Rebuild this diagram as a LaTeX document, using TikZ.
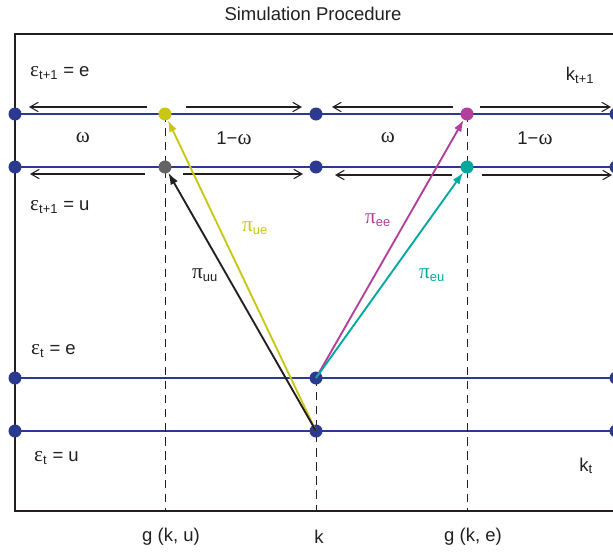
\documentclass[tikz,border=0pt]{standalone}
\usepackage{fontspec}
\setmainfont{Liberation Sans}
\newfontfamily\grk{Liberation Serif}[Scale=1.15]
\usetikzlibrary{arrows.meta, positioning, backgrounds}
\definecolor{NV}{RGB}{43,57,144}
\definecolor{YL}{RGB}{200,200,20}
\definecolor{MG}{RGB}{176,64,156}
\definecolor{TL}{RGB}{0,168,157}
\definecolor{GY}{RGB}{100,100,100}
\definecolor{DG}{RGB}{35,31,32}
\newcommand{\eps}{{\grk ε}}
\newcommand{\sbs}[1]{\textsubscript{#1}}

\begin{document}
\begin{tikzpicture}[x=0.03cm, y=-0.03cm,
  dot/.style={circle, fill=#1, minimum size=0.39cm, inner sep=0},
  lvl/.style={draw=NV, line width=2.3pt},
  guide/.style={draw=DG, line width=0.8pt, dash pattern=on 7pt off 5pt},
  harr/.style={-{Straight Barb[length=7pt,width=8pt]}, line width=0.9pt, draw=DG},
  parr/.style={-{Latex[length=10pt,width=7pt]}, line width=1.6pt, draw=#1},
  lbl/.style={font=\fontsize{15.8}{18}\selectfont, inner sep=0, text=DG}
]
\useasboundingbox (0,0) rectangle (613,553);
\clip (0,0) rectangle (613,553);
\coordinate (bot) at (0,511);

% States on the four levels
\foreach \r/\y in {ep/114, up/167, e/378, u/431}
  \foreach \i/\x in {0/15, 2/316, 4/616}
    \node[dot=NV] (\r\i) at (\x,\y) {};
\node[dot=YL] (ep1) at (165,114) {};
\node[dot=MG] (ep3) at (467,114) {};
\node[dot=GY] (up1) at (165,167) {};
\node[dot=TL] (up3) at (467,167) {};

% Frame, levels and guides
\begin{scope}[on background layer]
\draw[line width=1.4pt, draw=DG] (640,34) -- (15,34) -- (15,511) -- (640,511);
\foreach \r in {ep,up,e,u}
  \draw[lvl] (\r0.center) -- (\r4.center);
\draw[guide] (ep1.center) -- (ep1.center |- bot);
\draw[guide] (ep3.center) -- (ep3.center |- bot);
\draw[guide] (e2.center) -- (e2.center |- bot);
\end{scope}

% Title and level labels
\node[lbl] (title) at (313,14) {Simulation Procedure};
\node[lbl, anchor=west] (lep) at (30,73) {\eps\sbs{t+1} = e};
\node[lbl, anchor=west] (lup) at (30,207) {\eps\sbs{t+1} = u};
\node[lbl, anchor=west] (le) at (31,351) {\eps\sbs{t} = e};
\node[lbl, anchor=west] (lu) at (34,458) {\eps\sbs{t} = u};
\node[lbl] (kn) at (580,75) {k\sbs{t+1}};
\node[lbl] (kc) at (586,466) {k\sbs{t}};

% Axis labels
\node[lbl] (gu) at (171,537) {g (k, u)};
\node[lbl] (kk) at (319,537) {k};
\node[lbl] (ge) at (473,537) {g (k, e)};

% Weights
\node[lbl] (w1) at (83,138) {\grk ω};
\node[lbl] (w2) at (234,138) {1−{\grk ω}};
\node[lbl] (w3) at (388,138) {\grk ω};
\node[lbl] (w4) at (535,138) {1−{\grk ω}};

% Splitting arrows
\draw[harr] ([shift={(-18,-7)}]ep1.center) -- ([shift={(14,-7)}]ep0.center);
\draw[harr] ([shift={(21,-7)}]ep1.center) -- ([shift={(-14,-7)}]ep2.center);
\draw[harr] ([shift={(-14,-7)}]ep3.center) -- ([shift={(16,-7)}]ep2.center);
\draw[harr] ([shift={(13,-7)}]ep3.center) -- ([shift={(-5,-7)}]ep4.center);
\draw[harr] ([shift={(-20,7)}]up1.center) -- ([shift={(15,7)}]up0.center);
\draw[harr] ([shift={(18,7)}]up1.center) -- ([shift={(-13,7)}]up2.center);
\draw[harr] ([shift={(-15,8)}]up3.center) -- ([shift={(19,8)}]up2.center);
\draw[harr] ([shift={(15,8)}]up3.center) -- ([shift={(-4,8)}]up4.center);

% Transitions
\draw[parr=YL] (u2.center) -- (ep1);
\draw[parr=DG] (u2.center) -- (up1);
\draw[parr=MG] (e2.center) -- (ep3);
\draw[parr=TL] (e2.center) -- (up3);
\node[lbl, text=YL] (pue) at (255,228) {{\grk π}\sbs{ue}};
\node[lbl] (puu) at (205,275) {{\grk π}\sbs{uu}};
\node[lbl, text=MG] (pee) at (378,220) {{\grk π}\sbs{ee}};
\node[lbl, text=TL] (peu) at (432,275) {{\grk π}\sbs{eu}};
\end{tikzpicture}
\end{document}
